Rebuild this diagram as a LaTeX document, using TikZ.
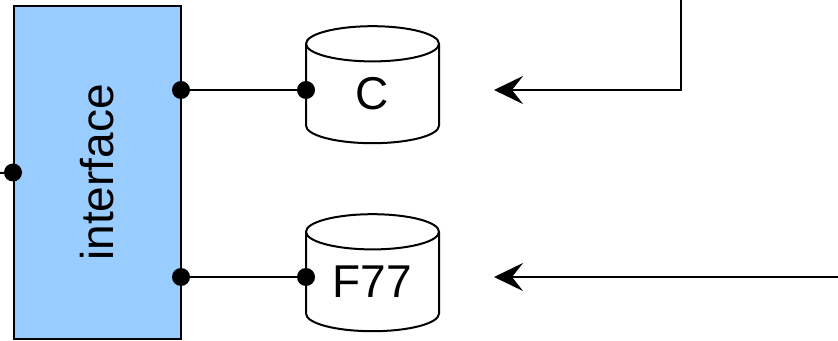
\documentclass[tikz,border=0pt]{standalone}
\usepackage{fontspec}
\setmainfont{Liberation Sans}
\usetikzlibrary{shapes.geometric,arrows.meta}

\definecolor{ifblue}{HTML}{99CCFF}

\tikzset{
  block/.style={draw, fill=ifblue, line width=1pt, inner sep=0pt,
    minimum width=83.5pt, minimum height=166.5pt},
  store/.style={cylinder, shape border rotate=90, draw, fill=white,
    line width=1pt, inner sep=0pt, aspect=0.4,
    text width=44pt, align=center,
    minimum width=66.5pt, minimum height=58.5pt},
  port/.style={circle, fill=black, inner sep=0pt, minimum size=9pt},
  wire/.style={line width=1pt},
  flow/.style={line width=1pt, -{Stealth[length=14.5pt, width=14pt, inset=5.5pt]}}
}

\begin{document}
\begin{tikzpicture}[x=0.5pt, y=-0.5pt, font=\fontsize{23}{23}\selectfont]
\useasboundingbox (0,0) rectangle (838,341);

% interface block
\node[block] (iface) at (97.5,172.5) {};
\node[rotate=90] (ilabel) at (iface.center) {interface};

% stores
\node[store] (cstore) at (372.5,94) {C};
\node[store] (fstore) at (372.5,282) {F77};

% ports
\node[port] (pin)  at (iface.west) {};
\node[port] (pc)   at (181,90) {};
\node[port] (pf)   at (181,277) {};
\node[port] (cin)  at (306,90) {};
\node[port] (fin)  at (306,277) {};

% wires
\coordinate (inend) at (0,173);
\draw[wire] (inend) -- (pin.center);
\draw[wire] (pc.center) -- (cin.center);
\draw[wire] (pf.center) -- (fin.center);

% incoming flows
\coordinate (ctop) at (681,0);
\coordinate (cbend) at (681,90);
\coordinate (ctip) at (494,90);
\coordinate (fsrc) at (838,277);
\coordinate (ftip) at (494,277);
\draw[flow] (ctop) -- (cbend) -- (ctip);
\draw[flow] (fsrc) -- (ftip);

\end{tikzpicture}
\end{document}
